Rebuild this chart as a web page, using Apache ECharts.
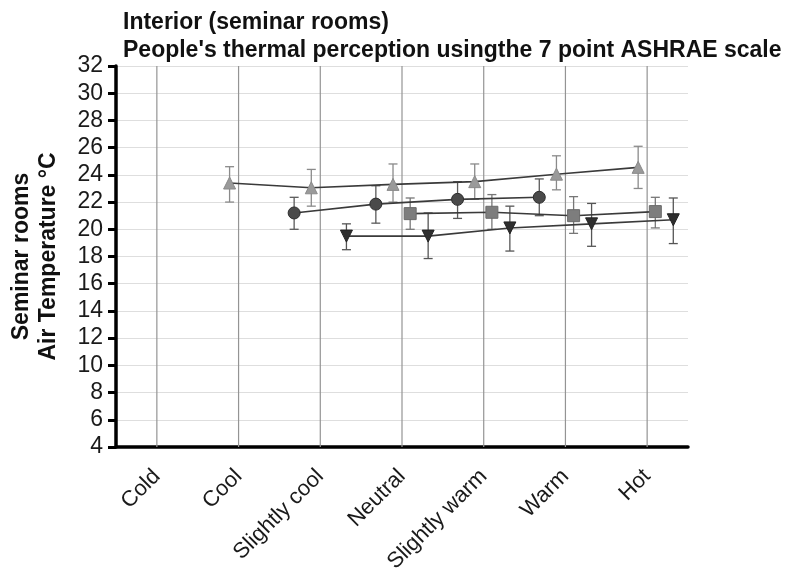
<!DOCTYPE html>
<html>
<head>
<meta charset="utf-8">
<script src="https://cdn.jsdelivr.net/npm/echarts@6/dist/echarts.min.js"></script>
<style>
html,body{margin:0;padding:0;background:#fff;}
#chart{width:792px;height:580px;}
</style>
</head>
<body>
<div id="chart"></div>
<script>
const categories = ['Cold', 'Cool', 'Slightly cool', 'Neutral', 'Slightly warm', 'Warm', 'Hot'];
const yMin = 4, yMax = 32, yStep = 2;

// Series A: circles
const circleMean = [null, null, 21.2, 21.85, 22.2, 22.35, null];
const circleHigh = [null, null, 22.35, 23.2, 23.5, 23.7, null];
const circleLow  = [null, null, 20.0, 20.45, 20.8, 21.0, null];

// Series B: triangles up
const triUpMean = [null, 23.4, 23.05, 23.3, 23.5, 24.05, 24.55];
const triUpHigh = [null, 24.6, 24.4, 24.8, 24.8, 25.4, 26.1];
const triUpLow  = [null, 22.0, 21.7, 22.0, 22.2, 22.9, 23.0];

// Series C: squares
const squareMean = [null, null, null, 21.15, 21.25, 21.0, 21.3];
const squareHigh = [null, null, null, 22.3, 22.55, 22.4, 22.35];
const squareLow  = [null, null, null, 20.0, 20.0, 19.7, 20.1];

// Series D: triangles down
const triDownMean = [null, null, 19.5, 19.5, 20.1, 20.4, 20.7];
const triDownHigh = [null, null, 20.4, 21.2, 21.7, 21.9, 22.3];
const triDownLow  = [null, null, 18.5, 17.85, 18.4, 18.75, 18.95];

const groups = [
  {mean: circleMean, high: circleHigh, low: circleLow, offset: -0.32, symbol: 'circle', size: 12, rotate: 0, fill: '#4a4a4a', border: '#2e2e2e', bar: '#5a5a5a'},
  {mean: triUpMean, high: triUpHigh, low: triUpLow, offset: -0.11, symbol: 'triangle', size: 12, rotate: 0, fill: '#9a9a9a', border: '#8a8a8a', bar: '#8a8a8a'},
  {mean: squareMean, high: squareHigh, low: squareLow, offset: 0.10, symbol: 'rect', size: 12, rotate: 0, fill: '#7d7d7d', border: '#6a6a6a', bar: '#777'},
  {mean: triDownMean, high: triDownHigh, low: triDownLow, offset: 0.32, symbol: 'triangle', size: 12, rotate: 180, fill: '#2e2e2e', border: '#222', bar: '#555'}
];

const series = [];

// vertical grid lines at category centres
series.push({
  type: 'custom',
  xAxisIndex: 1, yAxisIndex: 0,
  silent: true, z: 1,
  data: categories.map((c, i) => [i]),
  renderItem: function (params, api) {
    const x = api.value(0);
    const a = api.coord([x, yMax]);
    const b = api.coord([x, yMin]);
    return {type: 'line', shape: {x1: a[0], y1: a[1], x2: b[0], y2: b[1]},
            style: {stroke: '#949494', lineWidth: 1.2}};
  }
});

groups.forEach(g => {
  const pts = [], bars = [];
  g.mean.forEach((v, i) => {
    if (v !== null) {
      pts.push([i + g.offset, v]);
      bars.push([i + g.offset, g.low[i], g.high[i]]);
    }
  });
  series.push({
    type: 'custom',
    xAxisIndex: 1, yAxisIndex: 0,
    silent: true, z: 2,
    data: bars,
    encode: {x: 0, y: [1, 2]},
    renderItem: function (params, api) {
      const x = api.value(0);
      const lo = api.coord([x, api.value(1)]);
      const hi = api.coord([x, api.value(2)]);
      const w = 4.5;
      const st = {stroke: g.bar, lineWidth: 1.3};
      return {type: 'group', children: [
        {type: 'line', shape: {x1: hi[0], y1: hi[1], x2: lo[0], y2: lo[1]}, style: st},
        {type: 'line', shape: {x1: hi[0] - w, y1: hi[1], x2: hi[0] + w, y2: hi[1]}, style: st},
        {type: 'line', shape: {x1: lo[0] - w, y1: lo[1], x2: lo[0] + w, y2: lo[1]}, style: st}
      ]};
    }
  });
  series.push({
    type: 'line',
    xAxisIndex: 1, yAxisIndex: 0,
    data: pts,
    z: 3,
    symbol: g.symbol,
    symbolSize: g.size,
    symbolRotate: g.rotate,
    showAllSymbol: true,
    lineStyle: {color: '#3a3a3a', width: 1.6},
    itemStyle: {color: g.fill, borderColor: g.border, borderWidth: 1},
    animation: false
  });
});

const FONT = 'Liberation Sans, Arial, sans-serif';
const chart = echarts.init(document.getElementById('chart'), null, {renderer: 'canvas'});
chart.setOption({
  animation: false,
  backgroundColor: '#fff',
  textStyle: {fontFamily: FONT},
  title: {
    text: "Interior (seminar rooms)\nPeople's thermal perception usingthe 7 point ASHRAE scale",
    left: 118, top: 4,
    textStyle: {fontSize: 23, fontWeight: 'bold', color: '#111', lineHeight: 28, fontFamily: FONT}
  },
  grid: {left: 116, right: 104, top: 66, bottom: 133, containLabel: false, outerBoundsMode: 'none'},
  xAxis: [
    {
      type: 'category',
      data: categories,
      boundaryGap: true,
      axisLine: {lineStyle: {color: '#000', width: 3.5}},
      axisTick: {alignWithLabel: true, length: 8, lineStyle: {color: '#000', width: 3}},
      axisLabel: {rotate: 45, fontSize: 22, color: '#1a1a1a', margin: 26, interval: 0},
      splitLine: {show: false}
    },
    {
      type: 'value',
      min: -0.5, max: 6.5,
      show: false,
      splitLine: {show: false}
    }
  ],
  yAxis: {
    type: 'value',
    min: yMin, max: yMax, interval: yStep,
    name: 'Seminar rooms\nAir Temperature °C',
    nameLocation: 'middle',
    nameGap: 54,
    nameTextStyle: {fontSize: 23, fontWeight: 'bold', color: '#111', lineHeight: 27},
    axisLine: {show: true, onZero: false, lineStyle: {color: '#000', width: 3.5}},
    axisTick: {show: true, length: 8, lineStyle: {color: '#000', width: 3}},
    axisLabel: {fontSize: 23, color: '#1a1a1a', margin: 13},
    splitLine: {show: true, lineStyle: {color: '#dedede', width: 1}}
  },
  series: series
});
</script>
</body>
</html>
